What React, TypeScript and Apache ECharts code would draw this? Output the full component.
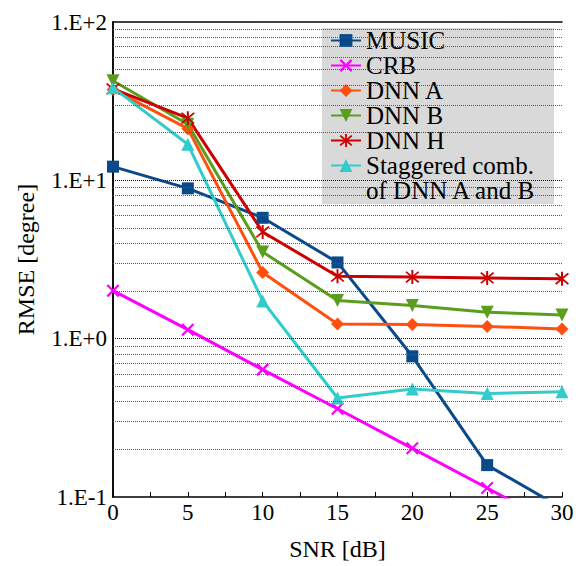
import React, { useEffect, useRef } from "react";
import * as echarts from "echarts";

const SNR = [0, 5, 10, 15, 20, 25, 30];
const MUSIC = [12.2, 8.9, 5.8, 3.03, 0.774, 0.159, 0.085];
const CRB = [2.01, 1.14, 0.638, 0.361, 0.203, 0.114, 0.064];
const DNN_A = [37.4, 21.2, 2.62, 1.236, 1.23, 1.195, 1.153];
const DNN_B = [42.6, 22.6, 3.53, 1.74, 1.62, 1.47, 1.41];
const DNN_H = [37.8, 24.7, 4.72, 2.48, 2.45, 2.42, 2.39];
const STAGGERED = [38.5, 16.9, 1.73, 0.422, 0.481, 0.451, 0.462];
const MINOR_GRID = [0.2, 0.3, 0.4, 0.5, 0.6, 0.7, 0.8, 0.9, 2, 3, 4, 5, 6, 7, 8, 9, 20, 30, 40, 50, 60, 70, 80, 90];
const MAJOR_GRID = [1, 10];

const FONT = "Liberation Serif";
const X_SYMBOL = "path://M0,1.2L1.2,0L10,8.8L8.8,10ZM8.8,0L10,1.2L1.2,10L0,8.8Z";
const STAR_SYMBOL = "path://M4.4,0L5.6,0L5.6,10L4.4,10ZM0.8,1.6L1.6,0.8L9.2,8.4L8.4,9.2ZM8.4,0.8L9.2,1.6L1.6,9.2L0.8,8.4Z";

const pairs = (ys: number[]) => SNR.map((x, i) => [x, ys[i]]);

export default function App() {
  const ref = useRef<HTMLDivElement>(null);
  useEffect(() => {
    document.body.style.margin = "0";
    if (!ref.current) return;
    const chart = echarts.init(ref.current, null, { renderer: "svg" });
    const mk = (name: string, data: number[], color: string, symbol: string, size: number, extra: any = {}) => ({
      name,
      type: "line",
      data: pairs(data),
      color,
      symbol,
      symbolSize: size,
      showAllSymbol: true,
      lineStyle: { width: 3, color },
      itemStyle: { color },
      clip: true,
      z: 3,
      ...extra,
    });
    const gridLine = (v: number) => ({ yAxis: v });
    chart.setOption({
      animation: false,
      textStyle: { fontFamily: FONT, color: "#000" },
      grid: { left: 113, right: 18, top: 22, bottom: 66, containLabel: false },
      legend: {
        orient: "vertical",
        left: 322,
        top: 28,
        backgroundColor: "#d9d9d9",
        padding: [0, 20, 26, 8],
        itemGap: 0,
        itemWidth: 30,
        itemHeight: 16,
        borderRadius: 0,
        textStyle: { fontFamily: FONT, fontSize: 25, color: "#000", lineHeight: 25 },
        data: ["MUSIC", "CRB", "DNN A", "DNN B", "DNN H", "Staggered comb."],
      },
      graphic: [
        {
          type: "text",
          left: 366,
          top: 178,
          z: 100,
          style: { text: "of DNN A and B", fontFamily: FONT, fontSize: 25, fill: "#000" },
        },
      ],
      xAxis: [
        {
          type: "value",
          min: 0,
          max: 30,
          interval: 5,
          name: "SNR [dB]",
          nameLocation: "middle",
          nameGap: 40,
          nameTextStyle: { fontFamily: FONT, fontSize: 24, color: "#000" },
          axisLine: { lineStyle: { color: "#000", width: 1.5 } },
          axisTick: { inside: true, length: 5, lineStyle: { color: "#000" } },
          minorTick: { show: true, splitNumber: 2, length: 5, lineStyle: { color: "#000" } },
          axisLabel: { fontFamily: FONT, fontSize: 23, color: "#000", margin: 4 },
          splitLine: { show: false },
        },
        {
          type: "value",
          position: "top",
          min: 0,
          max: 30,
          axisLine: { show: true, lineStyle: { color: "#000", width: 1.5 } },
          axisTick: { show: false },
          axisLabel: { show: false },
          splitLine: { show: false },
        },
      ],
      yAxis: [
        {
          type: "log",
          logBase: 10,
          min: 0.1,
          max: 100,
          name: "RMSE [degree]",
          nameLocation: "middle",
          nameGap: 75,
          nameTextStyle: { fontFamily: FONT, fontSize: 24, color: "#000" },
          axisLine: { show: true, lineStyle: { color: "#000", width: 1.5 } },
          axisTick: { show: false },
          axisLabel: {
            fontFamily: FONT,
            fontSize: 23,
            color: "#000",
            margin: 6,
            formatter: (v: number) => {
              const e = Math.round(Math.log10(v));
              return "1.E" + (e >= 0 ? "+" : "") + e;
            },
          },
          splitLine: { show: false },
        },
        {
          type: "log",
          position: "right",
          min: 0.1,
          max: 100,
          axisLine: { show: true, lineStyle: { color: "#000", width: 1.5 } },
          axisTick: { show: false },
          axisLabel: { show: false },
          splitLine: { show: false },
        },
      ],
      series: [
        {
          name: "grid",
          type: "line",
          data: [],
          z: 1,
          markLine: {
            silent: true,
            symbol: "none",
            label: { show: false },
            data: [
              ...MINOR_GRID.map(gridLine).map((d) => ({ ...d, lineStyle: { type: "dotted", color: "#555", width: 1 } })),
              ...MAJOR_GRID.map(gridLine).map((d) => ({ ...d, lineStyle: { type: "dotted", color: "#111", width: 1 } })),
            ],
          },
        },
        mk("MUSIC", MUSIC, "#0a4a8a", "rect", 12),
        mk("CRB", CRB, "#ff00ff", X_SYMBOL, 13),
        mk("DNN A", DNN_A, "#ff5010", "diamond", 13),
        mk("DNN B", DNN_B, "#5a9e1e", "triangle", 13, { symbolRotate: 180 }),
        mk("DNN H", DNN_H, "#cc0000", STAR_SYMBOL, 14),
        mk("Staggered comb.", STAGGERED, "#33cccc", "triangle", 13),
      ],
    });
    return () => chart.dispose();
  }, []);
  return <div ref={ref} style={{ width: 580, height: 566 }} />;
}
